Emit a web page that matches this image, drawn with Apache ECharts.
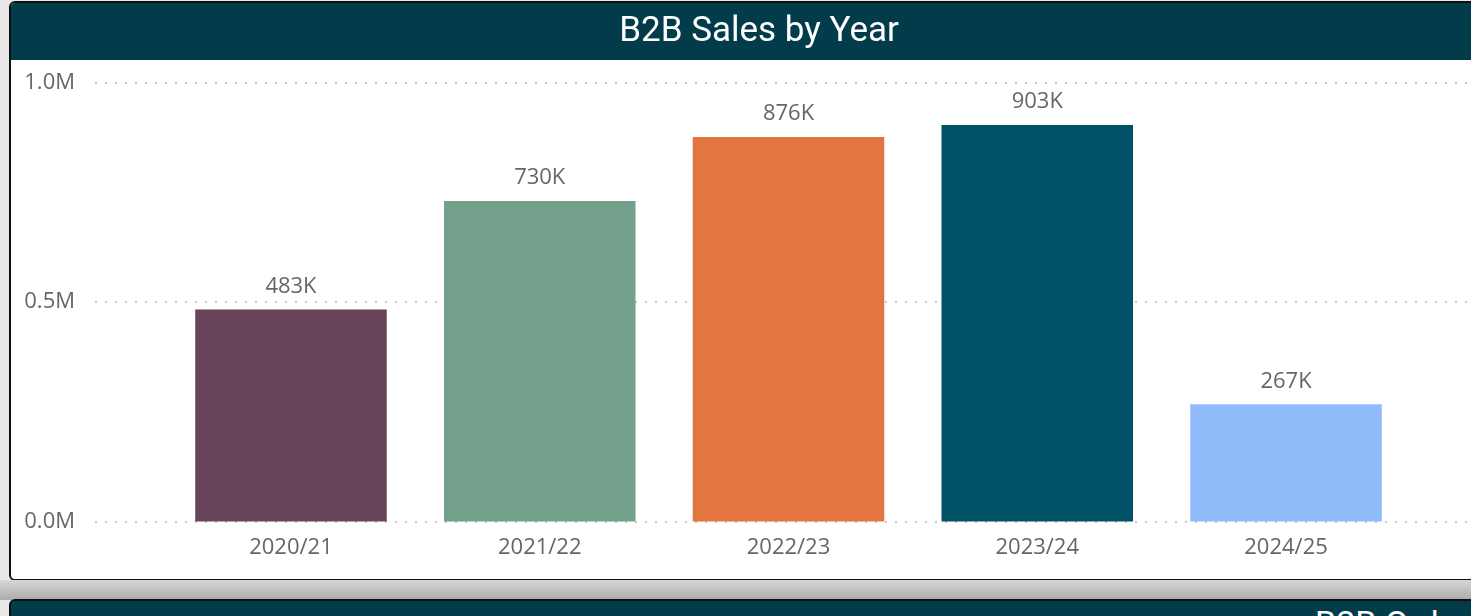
<!DOCTYPE html>
<html>
<head>
<meta charset="utf-8">
<script src="https://cdn.jsdelivr.net/npm/echarts@6/dist/echarts.min.js"></script>
<style>
  html, body { margin: 0; padding: 0; width: 1471px; height: 616px; overflow: hidden; background: #e8e8e8; }
  .card { position: absolute; left: 9px; top: 1px; width: 1500px; height: 576px; background: #fff;
          border: 2px solid #111; border-radius: 6px; overflow: hidden; }
  .card .head { height: 57px; background: #023b4a; }
  .shade { position: absolute; left: 0; top: 580px; width: 1471px; height: 20px;
           background: linear-gradient(#d6d6d6, #acacac); }
  .card2 { position: absolute; left: 9px; top: 599px; width: 1500px; height: 60px; background: #023b4a;
           border: 2px solid #111; border-radius: 6px; overflow: hidden; }
  .card2 span { position: absolute; left: 1304px; top: 2px; line-height: 40px; color: #fff; font-size: 34px;
                font-family: Roboto, sans-serif; white-space: nowrap; }
  #chart { position: absolute; left: 0; top: 0; width: 1471px; height: 616px; }
</style>
</head>
<body>
<div class="card"><div class="head"></div></div>
<div class="shade"></div>
<div class="card2"><span>B2B Orders by Year</span></div>
<div id="chart"></div>
<script>
// 数据
var years = ['2020/21', '2021/22', '2022/23', '2023/24', '2024/25'];
var sales = [483000, 730000, 876000, 903000, 267000];
var barColors = ['#674459', '#72a08a', '#e3753f', '#015266', '#91bbfa'];

var labelFont = '"Open Sans", sans-serif';
var myChart = echarts.init(document.getElementById('chart'));

var option = {
  backgroundColor: 'transparent',
  animation: false,
  title: {
    text: 'B2B Sales by Year',
    left: 754,
    top: 10,
    textAlign: 'center',
    textStyle: { color: '#fff', fontSize: 35, fontWeight: 'normal', fontFamily: 'Roboto, sans-serif' }
  },
  grid: [
    { left: 95, right: 0, top: 82.5, bottom: 94.5 },          // 网格线用
    { left: 166.6, width: 1243.8, top: 82.5, bottom: 94.5 }   // 柱子用
  ],
  xAxis: [
    { type: 'category', gridIndex: 0, data: years, show: false },
    {
      type: 'category', gridIndex: 1, data: years,
      axisLine: { show: false }, axisTick: { show: false },
      axisLabel: { color: '#666', fontSize: 22, fontFamily: labelFont, margin: 15 }
    }
  ],
  yAxis: [
    {
      type: 'value', gridIndex: 0, min: 0, max: 1000000, interval: 500000,
      axisLine: { show: false }, axisTick: { show: false },
      axisLabel: {
        color: '#666', fontSize: 22, fontFamily: labelFont, margin: 20,
        formatter: function (v) { return (v / 1000000).toFixed(1) + 'M'; }
      },
      splitLine: { lineStyle: { color: '#c8c8c8', width: 2, type: [2, 8] } }
    },
    { type: 'value', gridIndex: 1, min: 0, max: 1000000, interval: 500000, show: false, splitLine: { show: false } }
  ],
  series: [
    {
      type: 'bar',
      xAxisIndex: 1,
      yAxisIndex: 1,
      barCategoryGap: '23%',
      data: sales.map(function (v, i) { return { value: v, itemStyle: { color: barColors[i] } }; }),
      label: {
        show: true, position: 'top', distance: 12,
        color: '#666', fontSize: 22, fontFamily: labelFont,
        formatter: function (p) { return Math.round(p.value / 1000) + 'K'; }
      }
    }
  ]
};

myChart.setOption(option);
</script>
</body>
</html>
